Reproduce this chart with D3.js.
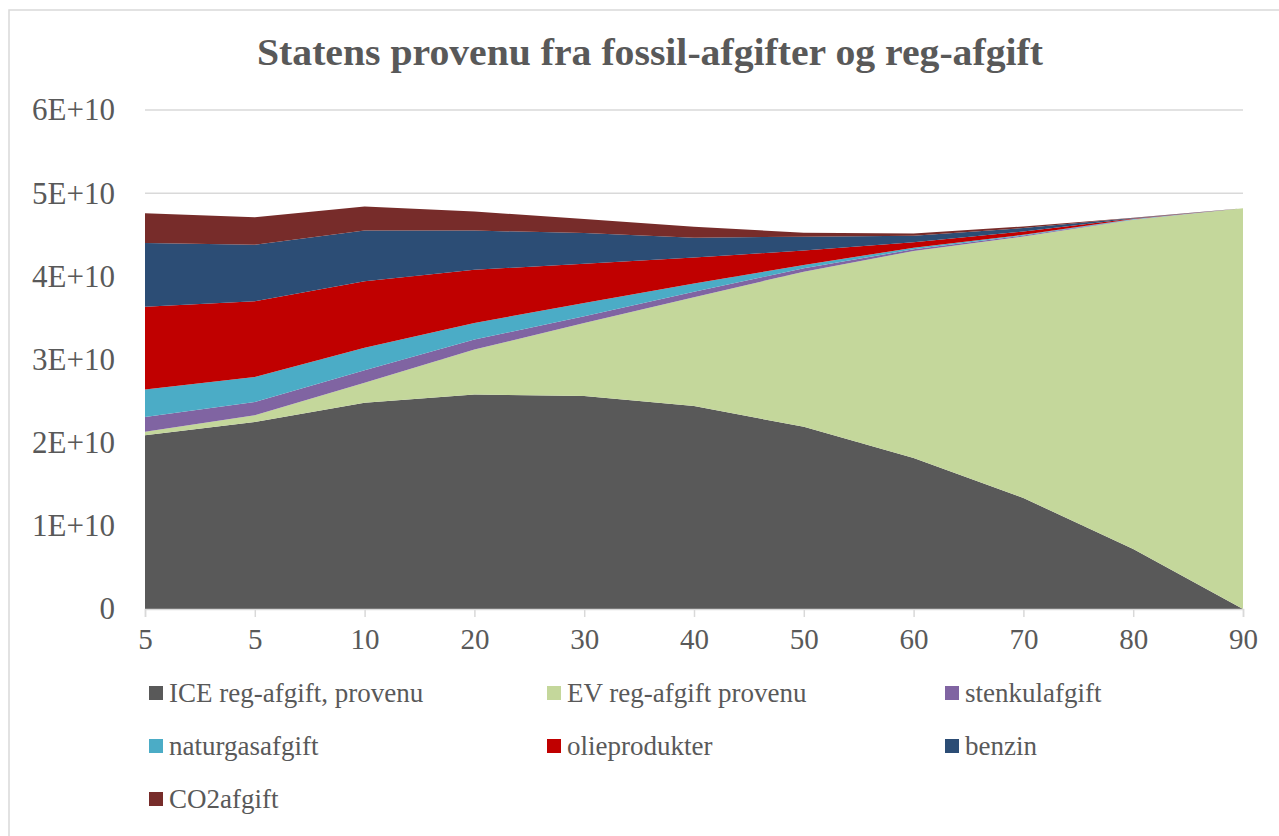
<!DOCTYPE html>
<html>
<head>
<meta charset="utf-8">
<script src="https://cdn.jsdelivr.net/npm/d3@7"></script>
<style>
  body { margin: 0; background: #fff; }
  text { font-family: "Liberation Serif", "DejaVu Serif", serif; fill: #595959; }
</style>
</head>
<body>
<svg id="chart"></svg>
<script>
// x categories (as labelled on the axis)
const years = ["5", "5", "10", "20", "30", "40", "50", "60", "70", "80", "90"];

// series values (in units of 1E+10)
const iceReg   = [2.09, 2.25, 2.48, 2.58, 2.56, 2.44, 2.19, 1.815, 1.335, 0.72, 0];
const evReg    = [0.04, 0.08, 0.24, 0.54, 0.88, 1.31, 1.866, 2.49, 3.145, 3.96, 4.82];
const stenkul  = [0.18, 0.16, 0.15, 0.12, 0.08, 0.065, 0.04, 0.02, 0.01, 0.003, 0];
const naturgas = [0.33, 0.30, 0.27, 0.20, 0.16, 0.10, 0.04, 0.02, 0.01, 0.005, 0];
const olie     = [0.995, 0.91, 0.80, 0.64, 0.47, 0.31, 0.174, 0.065, 0.04, 0.007, 0];
const benzin   = [0.765, 0.68, 0.61, 0.47, 0.37, 0.24, 0.167, 0.079, 0.04, 0.005, 0];
const co2      = [0.36, 0.33, 0.29, 0.23, 0.17, 0.13, 0.048, 0.026, 0.02, 0.005, 0];

const seriesNames = ["ICE reg-afgift, provenu", "EV reg-afgift provenu", "stenkulafgift",
    "naturgasafgift", "olieprodukter", "benzin", "CO2afgift"];
const seriesVals = [iceReg, evReg, stenkul, naturgas, olie, benzin, co2];
const colors = ["#595959", "#c4d79b", "#8064a2", "#4bacc6", "#c00000", "#2c4d75", "#772c2a"];

const yTicks = [0, 1e10, 2e10, 3e10, 4e10, 5e10, 6e10];
const yTickLabels = ["0", "1E+10", "2E+10", "3E+10", "4E+10", "5E+10", "6E+10"];

const W = 1279, H = 836;
const margin = { top: 110, left: 145, right: 36, bottom: 227 };
const w = W - margin.left - margin.right,
      h = H - margin.top - margin.bottom;

const svg = d3.select("#chart").attr("width", W).attr("height", H);

// chart area border
svg.append("rect")
    .attr("x", 9).attr("y", 10)
    .attr("width", W + 20).attr("height", H + 20)
    .attr("fill", "none").attr("stroke", "#d9d9d9").attr("stroke-width", 1.5);

// title
svg.append("text")
    .attr("x", 650).attr("y", 65)
    .attr("text-anchor", "middle")
    .attr("textLength", 786).attr("lengthAdjust", "spacingAndGlyphs")
    .style("font-size", "37px").style("font-weight", "bold")
    .text("Statens provenu fra fossil-afgifter og reg-afgift");

// table for stacking
const table = years.map((y, i) => {
    const row = { idx: i };
    seriesNames.forEach((n, k) => row[n] = seriesVals[k][i] * 1e10);
    return row;
});

const stack = d3.stack().keys(seriesNames);
const layers = stack(table);

const x = d3.scalePoint().domain(d3.range(years.length)).range([0, w]);
const y = d3.scaleLinear().domain([0, 6e10]).range([h, 0]);

const g = svg.append("g").attr("transform", "translate(" + margin.left + "," + margin.top + ")");

// gridlines
g.append("g").selectAll("line")
    .data(yTicks.slice(1))
    .enter().append("line")
    .attr("x1", 0).attr("x2", w)
    .attr("y1", d => y(d)).attr("y2", d => y(d))
    .attr("stroke", "#d9d9d9").attr("stroke-width", 1.5);

// areas
const area = d3.area()
    .x((d, i) => x(i))
    .y0(d => y(d[0]))
    .y1(d => y(d[1]));

g.append("g").selectAll("path")
    .data(layers)
    .enter().append("path")
    .attr("d", area)
    .attr("fill", (d, i) => colors[i]);

// x axis
const xAxis = d3.axisBottom(x).tickSize(8).tickPadding(11).tickFormat(i => years[i]);
const gX = g.append("g").attr("transform", "translate(0," + h + ")").call(xAxis);
gX.select(".domain").attr("stroke", "#d9d9d9").attr("stroke-width", 1.5);
gX.selectAll(".tick line").attr("stroke", "#d9d9d9").attr("stroke-width", 1.5);
gX.selectAll(".tick text").style("font-size", "29px").attr("fill", "#595959");

// y axis labels
const yAxis = d3.axisLeft(y).tickValues(yTicks).tickSize(0).tickPadding(30)
    .tickFormat((d, i) => yTickLabels[i]);
const gY = g.append("g").call(yAxis);
gY.select(".domain").remove();
gY.selectAll(".tick text").style("font-size", "31px").attr("fill", "#595959");

// legend
const legend = svg.append("g");
const items = legend.selectAll("g")
    .data(seriesNames)
    .enter().append("g")
    .attr("transform", (d, i) => "translate(" + (149 + (i % 3) * 398) + "," + (693 + Math.floor(i / 3) * 53) + ")");
items.append("rect")
    .attr("x", 0).attr("y", -7).attr("width", 14).attr("height", 14)
    .attr("fill", (d, i) => colors[i]);
items.append("text")
    .attr("x", 20).attr("y", 9)
    .style("font-size", "27px")
    .text(d => d);
</script>
</body>
</html>
